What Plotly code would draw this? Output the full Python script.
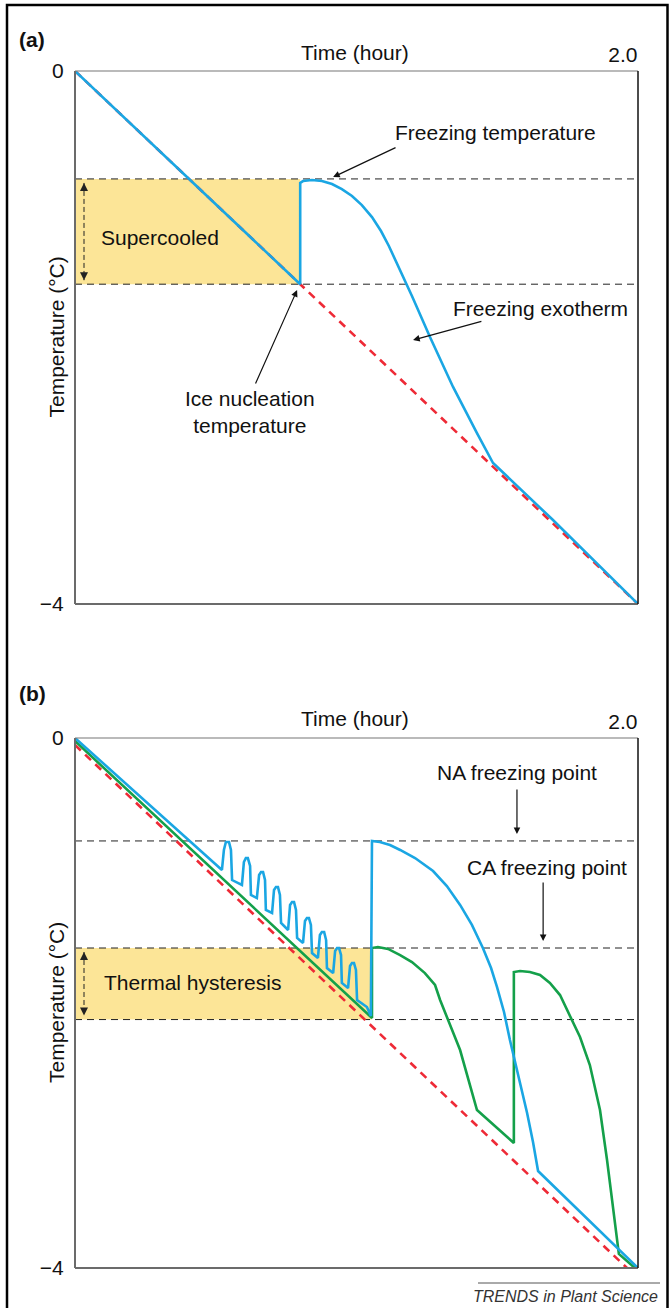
import plotly.graph_objects as go

# ---------------- data ----------------
time_range = [0.0, 2.0]
temp_range = [-4.0, 0.0]
x_tick_vals = [2.0]
x_tick_text = ["2.0"]
y_tick_vals = [0.0, -4.0]
y_tick_text = ["0", "\u22124"]

# Panel (a)
a_ambient_t = [0.0, 2.0]
a_ambient_temp = [0.0, -4.0]
a_sample_t = [0.0, 0.80, 0.80, 0.810, 0.842, 0.877, 0.913, 0.948, 0.984, 1.019, 1.055,
              1.087, 1.115, 1.140, 1.169, 1.197, 1.261, 1.343, 1.428, 1.485, 1.698, 2.0]
a_sample_temp = [0.0, -1.60, -0.84, -0.826, -0.818, -0.826, -0.848, -0.886, -0.938, -1.006, -1.096,
                 -1.201, -1.313, -1.426, -1.553, -1.689, -1.996, -2.371, -2.717, -2.942, -3.370, -4.0]
a_freezing_temp = -0.81
a_nucleation_temp = -1.60
a_nucleation_time = 0.80

# Panel (b)
b_ambient_t = [0.0, 1.961]
b_ambient_temp = [-0.053, -4.0]
b_na_t = [0.0, 0.522,
          0.529, 0.536, 0.547, 0.554, 0.558, 0.593,
          0.600, 0.607, 0.614, 0.622, 0.625, 0.646,
          0.654, 0.661, 0.668, 0.675, 0.678, 0.700,
          0.707, 0.714, 0.721, 0.728, 0.732, 0.757,
          0.764, 0.771, 0.778, 0.785, 0.789, 0.810,
          0.817, 0.824, 0.831, 0.838, 0.842, 0.863,
          0.870, 0.877, 0.885, 0.892, 0.895, 0.917,
          0.924, 0.931, 0.938, 0.945, 0.948, 0.970,
          0.977, 0.984, 0.991, 0.998, 1.002, 1.037,
          1.051, 1.055, 1.083, 1.119, 1.155, 1.208, 1.272, 1.321, 1.368, 1.410,
          1.449, 1.478, 1.499, 1.524, 1.545, 1.574, 1.606, 1.627, 1.645, 2.0]
b_na_temp = [0.0, -0.996,
             -0.845, -0.785, -0.785, -0.845, -1.072, -1.109,
             -0.936, -0.906, -0.906, -0.966, -1.185, -1.208,
             -1.034, -1.011, -1.011, -1.072, -1.298, -1.321,
             -1.147, -1.125, -1.125, -1.185, -1.396, -1.449,
             -1.260, -1.238, -1.238, -1.298, -1.509, -1.547,
             -1.381, -1.358, -1.358, -1.411, -1.623, -1.660,
             -1.487, -1.464, -1.464, -1.525, -1.736, -1.774,
             -1.608, -1.585, -1.585, -1.638, -1.849, -1.887,
             -1.721, -1.698, -1.698, -1.751, -1.977, -2.030,
             -2.098, -0.777, -0.785, -0.808, -0.845, -0.906, -1.004, -1.117, -1.260, -1.411,
             -1.585, -1.736, -1.879, -2.068, -2.279, -2.543, -2.830, -3.049, -3.268, -4.0]
b_ca_t = [0.0, 1.055, 1.055, 1.076, 1.112, 1.155, 1.197, 1.243, 1.279, 1.297, 1.368, 1.428,
          1.559, 1.559, 1.581, 1.616, 1.652, 1.687, 1.723, 1.758, 1.794, 1.829, 1.865,
          1.890, 1.911, 1.932, 1.989]
b_ca_temp = [-0.023, -2.113, -1.585, -1.577, -1.592, -1.638, -1.691, -1.774, -1.864, -1.977, -2.355, -2.808,
             -3.057, -1.766, -1.758, -1.766, -1.789, -1.849, -1.940, -2.091, -2.257, -2.468, -2.808,
             -3.185, -3.562, -3.894, -4.0]
b_na_freezing = -0.777
b_ca_freezing = -1.585
b_nucleation_temp = -2.125
b_nucleation_time = 1.055

# ---------------- style ----------------
BLUE = "#1AA6E3"
GREEN = "#14A04A"
RED = "#EE2A36"
YELLOW = "#FCE597"
FONT = "Liberation Sans, Arial, Helvetica, sans-serif"
W, H = 670, 1308

def px_x(p):
    return p / W

def px_y(p):
    return 1 - p / H

fig = go.Figure()

def ref_line(xa, ya, yv):
    fig.add_trace(go.Scatter(x=time_range, y=[yv, yv], mode="lines", xaxis=xa, yaxis=ya,
                             line=dict(color="#222222", width=1, dash="7px,5px"),
                             hoverinfo="skip", cliponaxis=False, showlegend=False))

def region(xa, ya, t1, top, bottom):
    fig.add_trace(go.Scatter(x=[0, t1, t1, 0, 0], y=[top, top, bottom, bottom, top],
                             mode="lines", fill="toself", fillcolor=YELLOW,
                             line=dict(width=0), xaxis=xa, yaxis=ya,
                             hoverinfo="skip", showlegend=False))

def dbl_arrow(xa, ya, xv, top, bottom):
    fig.add_trace(go.Scatter(x=[xv, xv], y=[top, bottom], mode="lines+markers",
                             xaxis=xa, yaxis=ya,
                             line=dict(color="#222222", width=1, dash="5px,3px"),
                             marker=dict(symbol=["arrow-up", "arrow-down"], size=8,
                                         color="#222222", line=dict(width=0)),
                             hoverinfo="skip", cliponaxis=False, showlegend=False))

def curve(xa, ya, xs, ys, color, dash=None, width=2.6):
    fig.add_trace(go.Scatter(x=xs, y=ys, mode="lines", xaxis=xa, yaxis=ya,
                             line=dict(color=color, width=width, dash=dash),
                             hoverinfo="skip", cliponaxis=False, showlegend=False))

# panel (a)
region("x", "y", a_nucleation_time, a_freezing_temp, a_nucleation_temp)
ref_line("x", "y", a_freezing_temp)
ref_line("x", "y", a_nucleation_temp)
dbl_arrow("x", "y", 0.032, a_freezing_temp - 0.03, a_nucleation_temp + 0.03)
curve("x", "y", a_ambient_t, a_ambient_temp, RED, dash="8px,6px", width=2.6)
curve("x", "y", a_sample_t, a_sample_temp, BLUE)

# panel (b)
region("x2", "y2", b_nucleation_time, b_ca_freezing, b_nucleation_temp)
ref_line("x2", "y2", b_na_freezing)
ref_line("x2", "y2", b_ca_freezing)
ref_line("x2", "y2", b_nucleation_temp)
dbl_arrow("x2", "y2", 0.032, b_ca_freezing - 0.03, b_nucleation_temp + 0.03)
curve("x2", "y2", b_ambient_t, b_ambient_temp, RED, dash="8px,6px", width=2.6)
curve("x2", "y2", b_ca_t, b_ca_temp, GREEN)
curve("x2", "y2", b_na_t, b_na_temp, BLUE)

xdom = [px_x(75), px_x(638)]
ydom_a = [px_y(604), px_y(71)]
ydom_b = [px_y(1268), px_y(738)]

def xaxis_cfg(dom, anchor):
    return dict(domain=dom, anchor=anchor, range=time_range, side="top",
                tickvals=x_tick_vals, ticktext=x_tick_text,
                ticks="outside", ticklen=9, tickcolor="rgba(0,0,0,0)",
                ticklabelposition="outside left", automargin=False,
                showgrid=False, zeroline=False, showline=False,
                tickfont=dict(family=FONT, size=21, color="#111"), fixedrange=True)

def yaxis_cfg(dom, anchor):
    return dict(domain=dom, anchor=anchor, range=temp_range,
                tickvals=y_tick_vals, ticktext=y_tick_text, automargin=False,
                ticks="outside", ticklen=6, tickcolor="rgba(0,0,0,0)",
                showgrid=False, zeroline=False, showline=False,
                tickfont=dict(family=FONT, size=21, color="#111"), fixedrange=True)

fig.update_layout(
    width=W, height=H, autosize=False, margin=dict(l=0, r=0, t=0, b=0, pad=0),
    paper_bgcolor="white", plot_bgcolor="white", showlegend=False,
    font=dict(family=FONT, color="#111"),
    xaxis=xaxis_cfg(xdom, "y"), yaxis=yaxis_cfg(ydom_a, "x"),
    xaxis2=xaxis_cfg(xdom, "y2"), yaxis2=yaxis_cfg(ydom_b, "x2"),
)

shapes = []
for xr, yr in (("x domain", "y domain"), ("x2 domain", "y2 domain")):
    shapes.append(dict(type="line", xref=xr, yref=yr, x0=0, x1=0, y0=0, y1=1,
                       line=dict(color="#6b6b6b", width=2)))
    shapes.append(dict(type="line", xref=xr, yref=yr, x0=0, x1=1, y0=0, y1=0,
                       line=dict(color="#6b6b6b", width=2)))
    shapes.append(dict(type="line", xref=xr, yref=yr, x0=0, x1=1, y0=1, y1=1,
                       line=dict(color="#777777", width=1.2)))
    shapes.append(dict(type="line", xref=xr, yref=yr, x0=1, x1=1, y0=0, y1=1,
                       line=dict(color="#111111", width=1.5)))
# outer frame
shapes.append(dict(type="rect", xref="paper", yref="paper", x0=px_x(7), x1=px_x(667.5),
                   y0=px_y(1312), y1=px_y(5), line=dict(color="black", width=2.5)))
# footer rule
shapes.append(dict(type="line", xref="paper", yref="paper", x0=px_x(478), x1=px_x(660),
                   y0=px_y(1283), y1=px_y(1283), line=dict(color="#555", width=1)))
fig.update_layout(shapes=shapes)

TF = dict(family=FONT, size=21, color="#111")
ann = []
# panel labels
ann.append(dict(text="<b>(a)</b>", xref="paper", yref="paper", x=px_x(17), y=px_y(40),
                xanchor="left", yanchor="middle", showarrow=False,
                font=dict(family=FONT, size=21, color="#111")))
ann.append(dict(text="<b>(b)</b>", xref="paper", yref="paper", x=px_x(17), y=px_y(693),
                xanchor="left", yanchor="middle", showarrow=False,
                font=dict(family=FONT, size=21, color="#111")))
for xr, yr, ty in (("x domain", "y domain", 52), ("x2 domain", "y2 domain", 718)):
    ann.append(dict(text="Time (hour)", xref=xr, yref="paper", x=0.497, y=px_y(ty),
                    xanchor="center", yanchor="middle", showarrow=False, font=TF))
    ann.append(dict(text="Temperature (\u00b0C)", xref="paper", yref=yr, x=px_x(56), y=0.5,
                    xanchor="center", yanchor="middle", textangle=-90, showarrow=False,
                    font=TF))
# panel (a) annotations
ann.append(dict(text="Freezing temperature", xref="x", yref="y", x=1.492, y=-0.465,
                showarrow=False, font=TF))
ann.append(dict(text="", xref="x", yref="y", x=0.917, y=-0.796, ax=1.144, ay=-0.570,
                axref="x", ayref="y", showarrow=True, arrowhead=2, arrowsize=1.1,
                arrowwidth=1.2, arrowcolor="#111"))
ann.append(dict(text="Supercooled", xref="x", yref="y", x=0.302, y=-1.246,
                showarrow=False, font=TF))
ann.append(dict(text="Ice nucleation<br>temperature", xref="x", yref="y", x=0.622, y=-2.559,
                showarrow=False, font=TF, align="center"))
ann.append(dict(text="", xref="x", yref="y", x=0.789, y=-1.644, ax=0.639, ay=-2.356,
                axref="x", ayref="y", showarrow=True, arrowhead=2, arrowsize=1.1,
                arrowwidth=1.2, arrowcolor="#111"))
ann.append(dict(text="Freezing exotherm", xref="x", yref="y", x=1.652, y=-1.779,
                showarrow=False, font=TF))
ann.append(dict(text="", xref="x", yref="y", x=1.201, y=-2.019, ax=1.449, ay=-1.876,
                axref="x", ayref="y", showarrow=True, arrowhead=2, arrowsize=1.1,
                arrowwidth=1.2, arrowcolor="#111"))
# panel (b) annotations
ann.append(dict(text="NA freezing point", xref="x2", yref="y2", x=1.570, y=-0.264,
                showarrow=False, font=TF))
ann.append(dict(text="", xref="x2", yref="y2", x=1.570, y=-0.725, ax=1.570, ay=-0.377,
                axref="x2", ayref="y2", showarrow=True, arrowhead=2, arrowsize=1.1,
                arrowwidth=1.2, arrowcolor="#111"))
ann.append(dict(text="CA freezing point", xref="x2", yref="y2", x=1.677, y=-0.981,
                showarrow=False, font=TF))
ann.append(dict(text="", xref="x2", yref="y2", x=1.663, y=-1.532, ax=1.663, ay=-1.079,
                axref="x2", ayref="y2", showarrow=True, arrowhead=2, arrowsize=1.1,
                arrowwidth=1.2, arrowcolor="#111"))
ann.append(dict(text="Thermal hysteresis", xref="x2", yref="y2", x=0.416, y=-1.849,
                showarrow=False, font=TF))
# footer
ann.append(dict(text="<i>TRENDS in Plant Science</i>", xref="paper", yref="paper",
                x=px_x(660), y=px_y(1296), xanchor="right", yanchor="middle",
                showarrow=False, font=dict(family=FONT, size=16, color="#333")))
fig.update_layout(annotations=ann)

fig.write_html("out.html", config={"displayModeBar": False},
               post_script="document.body.style.margin='0px';document.body.style.overflow='hidden';")
